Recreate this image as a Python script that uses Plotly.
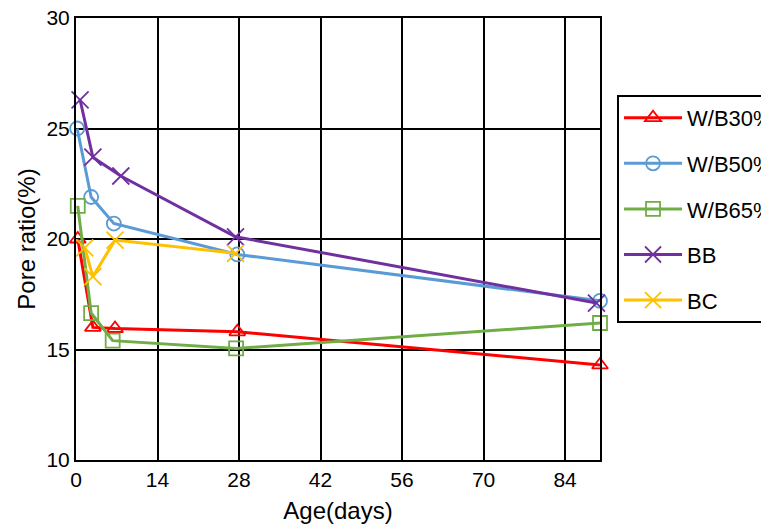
import plotly.graph_objects as go

# Pore ratio (%) vs. curing age (days)
names = ["W/B30%", "W/B50%", "W/B65%", "BB", "BC"]
colors = ["#FF0000", "#5B9BD5", "#70AD47", "#7030A0", "#FFC000"]
symbols = ["triangle-up-open", "circle-open", "square-open", "x-thin-open", "x-thin-open"]

age_w30 = [0.3, 2.9, 6.7, 27.7, 90]
pore_w30 = [20.0, 16.0, 15.95, 15.8, 14.3]

age_w50 = [0.2, 2.6, 6.5, 27.7, 90]
pore_w50 = [25.0, 21.9, 20.7, 19.3, 17.2]

age_w65 = [0.3, 2.6, 6.3, 27.5, 90]
pore_w65 = [21.5, 16.65, 15.4, 15.05, 16.2]

age_bb = [0.7, 2.9, 7.7, 27.4, 89.4]
pore_bb = [26.3, 23.7, 22.85, 20.1, 17.1]

age_bc = [1.5, 2.9, 6.7, 27.4]
pore_bc = [19.6, 18.3, 19.95, 19.35]

ages = [age_w30, age_w50, age_w65, age_bb, age_bc]
pores = [pore_w30, pore_w50, pore_w65, pore_bb, pore_bc]

x_ticks = [0, 14, 28, 42, 56, 70, 84]
y_ticks = [10, 15, 20, 25, 30]

FONT = "Liberation Sans, Arial, sans-serif"

fig = go.Figure()
for i, (name, color, sym, xs, ys) in enumerate(zip(names, colors, symbols, ages, pores)):
    big = sym.startswith("x")
    fig.add_trace(go.Scatter(
        x=xs, y=ys, name=name, mode="lines+markers",
        legendgroup=f"g{i}",
        line=dict(color=color, width=3),
        marker=dict(symbol=sym, size=17 if big else 14, color=color,
                    line=dict(color=color, width=1.8)),
        cliponaxis=False,
    ))

axis_common = dict(
    showline=True, linecolor="black", linewidth=2, mirror=True,
    showgrid=True, gridcolor="black", gridwidth=1.5,
    zeroline=False, ticks="",
    tickfont=dict(family=FONT, size=21, color="black"),
)

fig.update_layout(
    width=761, height=526,
    margin=dict(l=76, r=161, t=18, b=66, autoexpand=False),
    paper_bgcolor="white", plot_bgcolor="white",
    font=dict(family=FONT, color="black"),
    xaxis=dict(range=[0, 90], tickvals=x_ticks, ticktext=[str(v) for v in x_ticks],
               title=dict(text="Age(days)", font=dict(family=FONT, size=24), standoff=12),
               **axis_common),
    yaxis=dict(range=[10, 30], tickvals=y_ticks, ticktext=[str(v) for v in y_ticks],
               ticklabelstandoff=0,
               title=dict(text="Pore ratio(%)", font=dict(family=FONT, size=24), standoff=4),
               **axis_common),
    legend=dict(
        x=1.0325, xanchor="left", y=0.826, yanchor="top",
        bordercolor="black", borderwidth=2, bgcolor="white",
        font=dict(family=FONT, size=22, color="black"),
        itemwidth=58, tracegroupgap=14,
    ),
    showlegend=True,
)

fig.write_html("out.html")
